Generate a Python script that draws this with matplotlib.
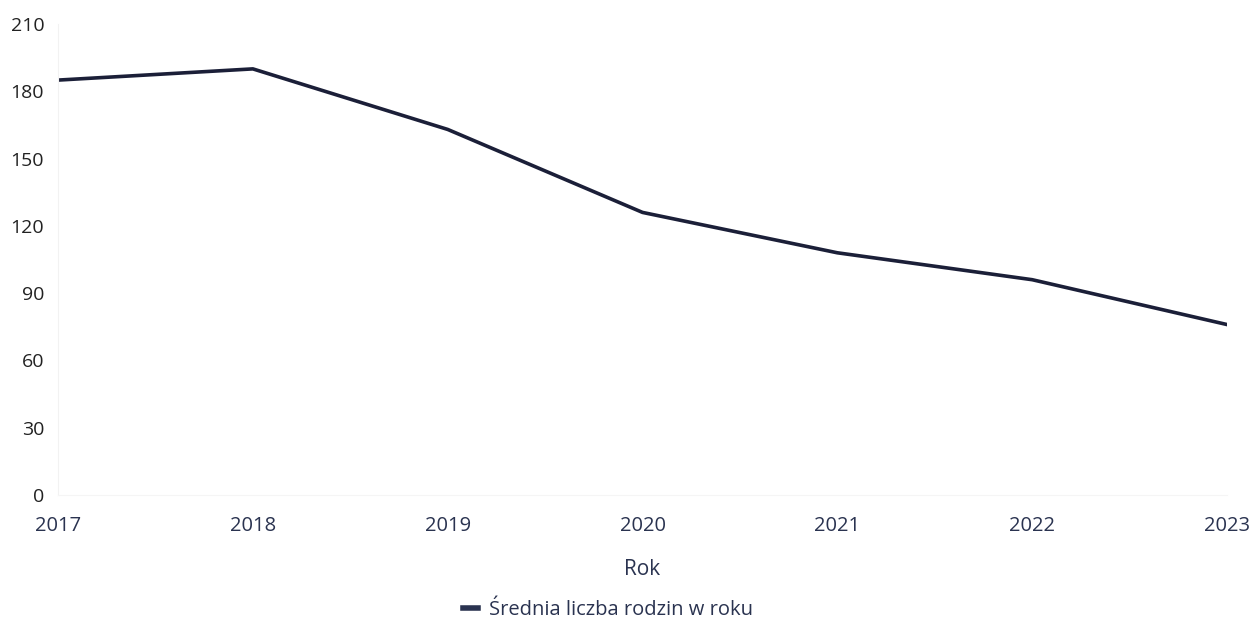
import matplotlib.pyplot as plt

plt.rcParams['font.family'] = ['Open Sans', 'DejaVu Sans']

years = [2017, 2018, 2019, 2020, 2021, 2022, 2023]
families = [185, 190, 163, 126, 108, 96, 76]
y_ticks = [0, 30, 60, 90, 120, 150, 180, 210]

line_color = '#1b1f38'
text_color = '#2a3350'

fig = plt.figure(figsize=(12.53, 6.24), dpi=100)
ax = fig.add_axes([0.0463, 0.2067, 0.9330, 0.7548])

ax.plot(years, families, color=line_color, linewidth=2.6,
        label='Średnia liczba rodzin w roku', solid_joinstyle='round')

ax.set_xlim(2017, 2023)
ax.set_ylim(0, 210)
ax.set_xticks(years)
ax.set_yticks(y_ticks)

for side in ['top', 'right']:
    ax.spines[side].set_visible(False)
ax.spines['left'].set_color('#f2f2f2')
ax.spines['bottom'].set_color('#f5f5f5')

ax.tick_params(axis='x', length=0, pad=15, labelsize=14.5, labelcolor=text_color)
ax.tick_params(axis='y', length=0, pad=10, labelsize=14, labelcolor='#222222')

ax.set_xlabel('Rok', fontsize=15, color=text_color, labelpad=17)

leg = fig.legend(loc='center', bbox_to_anchor=(0.485, 0.022), frameon=False,
                 fontsize=14.5, handlelength=0.75, handletextpad=0.55,
                 labelcolor=text_color)
leg.get_lines()[0].set_linewidth(4)
leg.get_lines()[0].set_color('#2a3350')

fig.savefig('out.png', dpi=100)
